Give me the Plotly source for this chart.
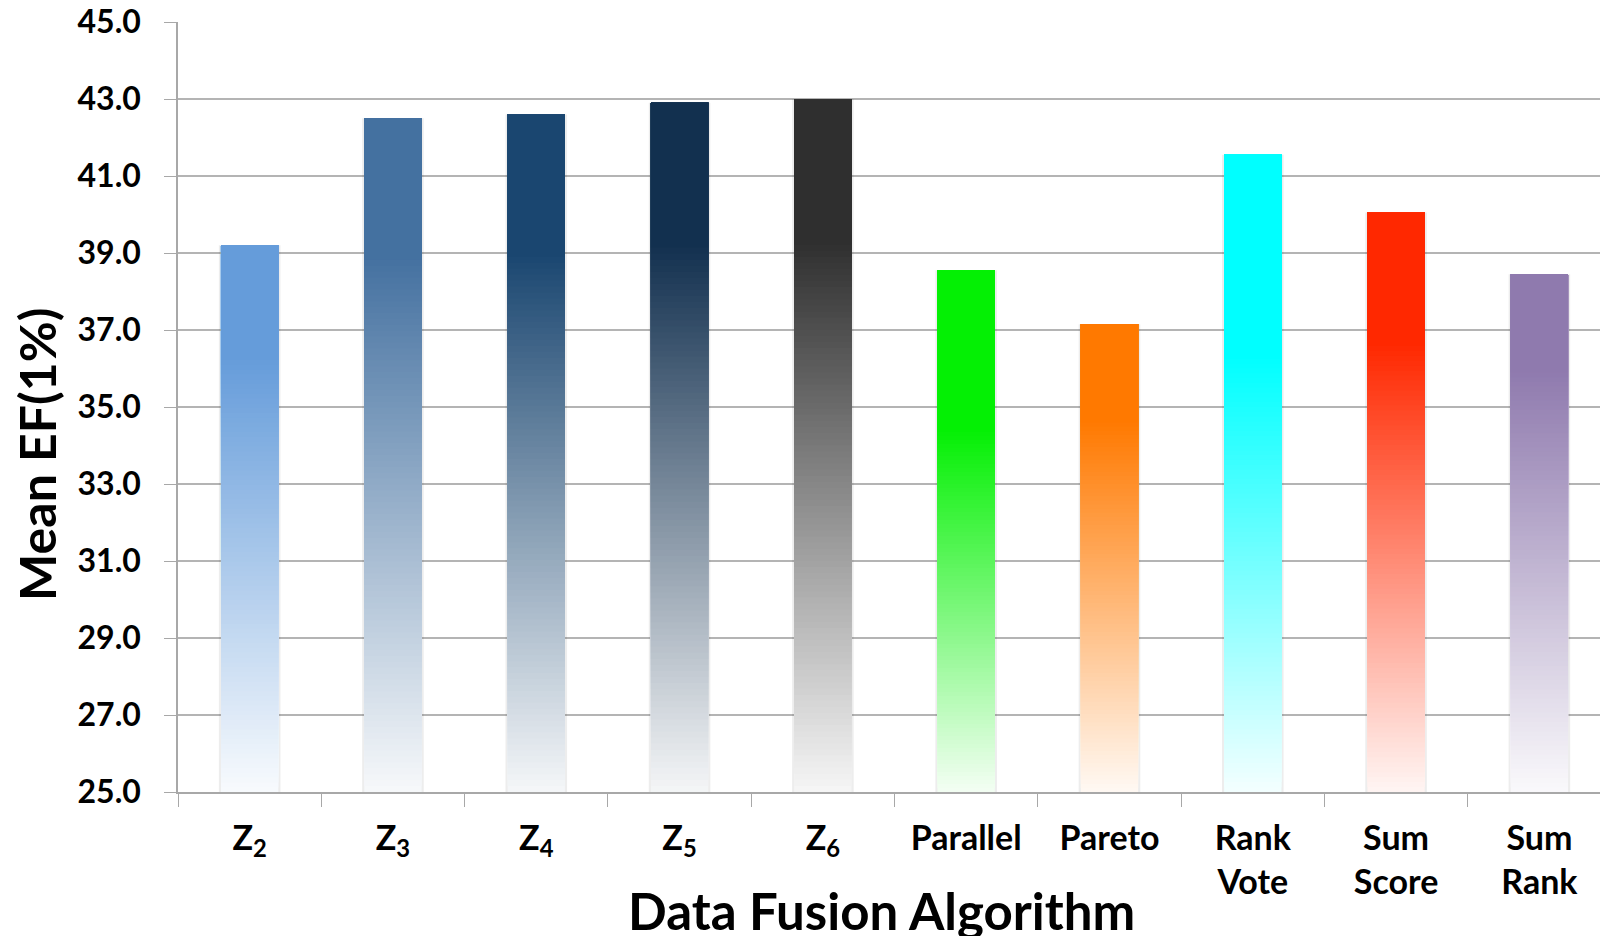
import plotly.graph_objects as go

# Mean EF(1%) by data fusion algorithm
categories = [
    "Z<sub>2</sub>", "Z<sub>3</sub>", "Z<sub>4</sub>", "Z<sub>5</sub>", "Z<sub>6</sub>",
    "Parallel", "Pareto", "Rank<br>Vote", "Sum<br>Score", "Sum<br>Rank",
]
mean_ef = [39.2, 42.5, 42.6, 42.9, 43.0, 38.55, 37.15, 41.55, 40.05, 38.45]

y_tick_values = [25, 27, 29, 31, 33, 35, 37, 39, 41, 43, 45]

# bar styling: top colour and the share of each bar kept at full colour
bar_colors = [
    "#659CDA", "#4471A0", "#1A4670", "#12304F", "#2F2F2F",
    "#04F004", "#FF7900", "#00FFFF", "#FF2800", "#8F7AAE",
]
solid_share = [0.21, 0.21, 0.21, 0.21, 0.21, 0.31, 0.21, 0.32, 0.23, 0.19]

AXIS_MIN = 25.0
N_STEPS = 90
FADE_END = 0.95   # how close to white the bottom of each bar gets
BAR_WIDTH = 0.4
FONT = "Lato"


def mix_white(hex_color, t):
    h = hex_color.lstrip("#")
    r, g, b = (int(h[i:i + 2], 16) for i in (0, 2, 4))
    r = round(r + (255 - r) * t)
    g = round(g + (255 - g) * t)
    b = round(b + (255 - b) * t)
    return f"rgb({r},{g},{b})"


fig = go.Figure()

# soft shadow behind each bar
fig.add_bar(
    x=categories,
    y=[v - AXIS_MIN for v in mean_ef],
    base=AXIS_MIN,
    width=BAR_WIDTH + 0.03,
    marker=dict(color="rgba(0,0,0,0.07)", line_width=0),
    hoverinfo="skip",
    showlegend=False,
)

# gradient fill: stacked overlapping slices, lightest at the bottom
for k in range(N_STEPS + 1):
    step = k / N_STEPS
    bases = [AXIS_MIN + (v - AXIS_MIN) * (1 - s) * step for v, s in zip(mean_ef, solid_share)]
    heights = [v - b for v, b in zip(mean_ef, bases)]
    colors = [mix_white(c, FADE_END * (1 - step)) for c in bar_colors]
    fig.add_bar(
        x=categories,
        y=heights,
        base=bases,
        width=BAR_WIDTH,
        marker=dict(color=colors, line_width=0),
        hoverinfo="skip",
        showlegend=False,
    )

fig.update_layout(
    width=1600,
    height=936,
    margin=dict(l=178, r=0, t=22, b=144),
    paper_bgcolor="white",
    plot_bgcolor="white",
    barmode="overlay",
    font=dict(family=FONT, color="black"),
    showlegend=False,
)

fig.update_xaxes(
    type="category",
    categoryorder="array",
    categoryarray=categories,
    range=[-0.5, 9.423],
    showline=True,
    linecolor="#A8A8A8",
    linewidth=1.5,
    ticks="outside",
    tickson="boundaries",
    ticklen=13,
    tickcolor="#A8A8A8",
    tickwidth=1.2,
    showgrid=False,
    tickfont=dict(family=FONT, size=34, color="black", weight="bold"),
    ticklabelstandoff=15,
)

fig.update_yaxes(
    range=[AXIS_MIN, 45],
    tickvals=y_tick_values,
    tickformat=".1f",
    showline=True,
    linecolor="#A8A8A8",
    linewidth=1.5,
    ticks="outside",
    ticklen=12,
    tickcolor="#A8A8A8",
    tickwidth=1.2,
    showgrid=True,
    gridcolor="#B4B4B4",
    gridwidth=1.5,
    zeroline=False,
    tickfont=dict(family=FONT, size=32, color="black", weight="bold"),
    ticklabelstandoff=17,
    ticklabeloverflow="allow",
)

fig.add_annotation(
    text="Mean EF(1%)",
    xref="paper", yref="paper",
    x=-0.0992, y=0.439,
    xanchor="center", yanchor="middle",
    textangle=-90,
    showarrow=False,
    font=dict(family=FONT, size=50, color="black", weight="bold"),
)
fig.add_annotation(
    text="Data Fusion Algorithm",
    xref="paper", yref="paper",
    x=0.495, y=-0.154,
    xanchor="center", yanchor="middle",
    showarrow=False,
    font=dict(family=FONT, size=51, color="black", weight="bold"),
)

fig.write_html("out.html")
